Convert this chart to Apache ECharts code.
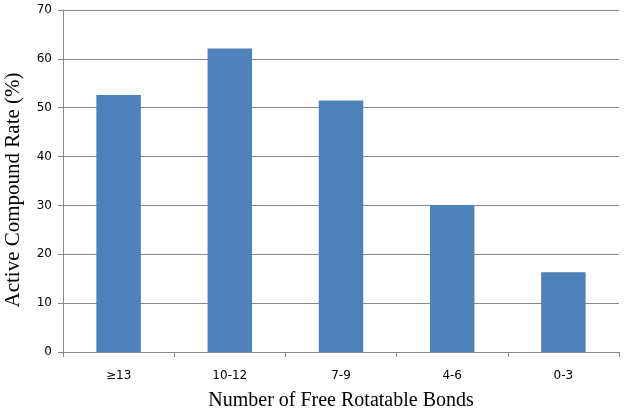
<!DOCTYPE html>
<html>
<head>
<meta charset="utf-8">
<script src="https://cdn.jsdelivr.net/npm/echarts@6/dist/echarts.min.js"></script>
<style>
html,body{margin:0;padding:0;background:#fff;}
#chart{width:624px;height:412px;}
</style>
</head>
<body>
<div id="chart"></div>
<script>
// 数据
var categories = ['≥13', '10-12', '7-9', '4-6', '0-3'];
var rates = [52.6, 62.1, 51.5, 30.1, 16.3];
var yTicks = [0, 10, 20, 30, 40, 50, 60, 70];

var container = echarts.init(document.getElementById('chart'));
var option = {
    animation: false,
    grid: {
        left: 63,
        right: 5,
        top: 10,
        bottom: 60,
        outerBoundsMode: 'none'
    },
    xAxis: {
        type: 'category',
        data: categories,
        name: 'Number of Free Rotatable Bonds',
        nameLocation: 'middle',
        nameGap: 39,
        nameTextStyle: {
            fontFamily: 'Liberation Serif',
            fontSize: 20,
            color: '#000'
        },
        axisLine: { lineStyle: { color: '#878787' } },
        axisTick: { show: true, length: 5, lineStyle: { color: '#878787' } },
        axisLabel: {
            margin: 18,
            fontFamily: 'DejaVu Sans',
            fontSize: 12,
            color: '#000'
        }
    },
    yAxis: {
        type: 'value',
        min: yTicks[0],
        max: yTicks[yTicks.length - 1],
        interval: 10,
        name: 'Active Compound Rate (%)',
        nameLocation: 'middle',
        nameGap: 39,
        nameTextStyle: {
            fontFamily: 'Liberation Serif',
            fontSize: 21,
            color: '#000',
            padding: [0, 18, 0, 0]
        },
        axisLine: { show: true, lineStyle: { color: '#878787' } },
        axisTick: { show: true, length: 5, lineStyle: { color: '#878787' } },
        axisLabel: {
            margin: 11,
            fontFamily: 'DejaVu Sans',
            fontSize: 12,
            color: '#000'
        },
        splitLine: { lineStyle: { color: '#878787', width: 1 } }
    },
    series: [
        {
            type: 'bar',
            data: rates,
            barWidth: '40%',
            itemStyle: { color: '#4F81BD' }
        }
    ]
};
container.setOption(option);
</script>
</body>
</html>
